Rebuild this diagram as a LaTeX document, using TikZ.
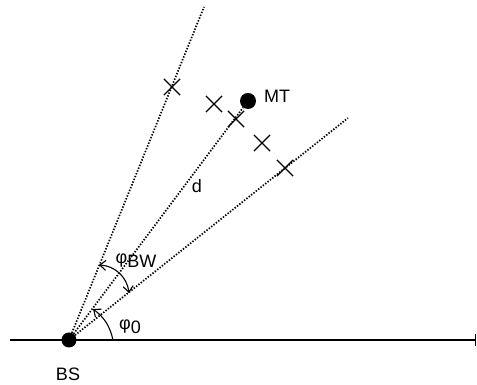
\documentclass[tikz,border=0pt]{standalone}
\usepackage{fontspec}
\setmainfont{Liberation Sans}
\usetikzlibrary{arrows.meta,shapes.misc}
\begin{document}
\begin{tikzpicture}[x=1pt,y=1pt,
  font=\fontsize{18}{21}\selectfont,
  dl/.style={line width=1.7pt, dash pattern=on 1.4pt off 1.6pt},
  xmark/.style={cross out, draw, line width=1.2pt, minimum size=15pt, inner sep=0pt},
  dot/.style={circle, fill=black, inner sep=0pt},
  arr/.style={line width=1.1pt, -{Straight Barb[length=6pt,width=10pt]}},
  arrb/.style={line width=1.1pt, {Straight Barb[length=6pt,width=10pt]}-{Straight Barb[length=6pt,width=10pt]}}]
\useasboundingbox (0,0) rectangle (477,385);
% ground line
\coordinate (hl) at (10,45);
\coordinate (hr) at (476,45);
\draw[line width=1.4pt, -{Bar[width=12pt,line width=1.4pt]}] (hl) -- (hr);
% stations
\node[dot, minimum size=15pt] (bs) at (69,45) {};
\node[dot, minimum size=16pt] (mt) at (248,284) {};
% beam lines
\coordinate (up) at (204,378);
\coordinate (low) at (348,267);
\draw[dl] (bs) -- (up);
\draw[dl] (bs) -- (mt);
\draw[dl] (bs) -- (low);
% scatterers
\node[xmark] (x1) at (172,298) {};
\node[xmark] (x2) at (214,281) {};
\node[xmark] (x3) at (236,266) {};
\node[xmark] (x4) at (262,242) {};
\node[xmark] (x5) at (285,217) {};
% angle arcs
\coordinate (a1) at (99,120);
\coordinate (a2) at (129,92);
\draw[arrb] (a1) to[bend left=40] (a2);
\coordinate (b1) at (113,45);
\coordinate (b2) at (93,76);
\draw[arr] (b1) to[bend right=20] (b2);
% labels
\node (lmt) at (277,289) {MT};
\node (ld) at (197,199) {d};
\node (lbs) at (68,11) {BS};
\node (lbw) at (136,124) {φ\raisebox{-0.45ex}{BW}};
\node (lph0) at (130,58) {φ\raisebox{-0.45ex}{0}};
\end{tikzpicture}
\end{document}
